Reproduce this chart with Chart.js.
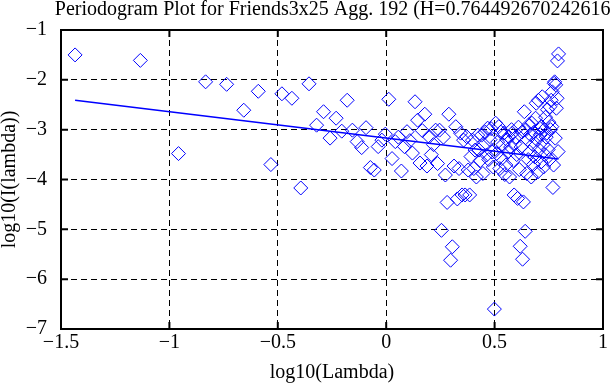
<!DOCTYPE html>
<html>
<head>
<meta charset="utf-8">
<script src="https://cdn.jsdelivr.net/npm/chart.js@4.4.1/dist/chart.umd.min.js"></script>
<style>
  html, body { margin: 0; padding: 0; background: #fff; }
</style>
</head>
<body>
<canvas id="periodogram" width="611" height="385"></canvas>
<script>
const chartTitle = 'Periodogram Plot for Friends3x25 Agg. 192 (H=0.764492670242616)';
const xAxisLabel = 'log10(Lambda)';
const yAxisLabel = 'log10(I(lambda))';

// log10 of the frequencies
const logLambda = [
  -1.435, -1.134, -0.958, -0.833, -0.736, -0.657, -0.590, -0.532, -0.481, -0.435,
  -0.394, -0.356, -0.321, -0.289, -0.259, -0.231, -0.205, -0.180, -0.156, -0.134,
  -0.113, -0.093, -0.073, -0.055, -0.037, -0.020, -0.004, 0.012, 0.027, 0.042,
  0.056, 0.070, 0.084, 0.096, 0.109, 0.121, 0.133, 0.145, 0.156, 0.167,
  0.178, 0.188, 0.198, 0.208, 0.218, 0.228, 0.237, 0.246, 0.255, 0.264,
  0.273, 0.281, 0.289, 0.297, 0.305, 0.313, 0.321, 0.328, 0.336, 0.343,
  0.350, 0.357, 0.364, 0.371, 0.378, 0.385, 0.391, 0.398, 0.404, 0.410,
  0.416, 0.422, 0.428, 0.434, 0.440, 0.446, 0.451, 0.457, 0.463, 0.468,
  0.473, 0.479, 0.484, 0.489, 0.494, 0.499, 0.505, 0.509, 0.514, 0.519,
  0.524, 0.529, 0.533, 0.538, 0.543, 0.547, 0.552, 0.556, 0.561, 0.565,
  0.569, 0.574, 0.578, 0.582, 0.586, 0.590, 0.594, 0.598, 0.602, 0.606,
  0.610, 0.614, 0.618, 0.622, 0.626, 0.629, 0.633, 0.637, 0.641, 0.644,
  0.648, 0.651, 0.655, 0.658, 0.662, 0.665, 0.669, 0.672, 0.676, 0.679,
  0.682, 0.686, 0.689, 0.692, 0.695, 0.699, 0.702, 0.705, 0.708, 0.711,
  0.714, 0.717, 0.720, 0.723, 0.726, 0.729, 0.732, 0.735, 0.738, 0.741,
  0.744, 0.747, 0.750, 0.753, 0.755, 0.758, 0.761, 0.764, 0.766, 0.769,
  0.772, 0.775, 0.777, 0.780, 0.782, 0.785, 0.788, 0.790, 0.793, 0.795
];

// log10 of the periodogram values
const logPeriodogram = [
  -1.50, -1.61, -3.48, -2.04, -2.09, -2.61, -2.23, -3.70, -2.28, -2.37,
  -4.17, -2.08, -2.91, -2.64, -3.17, -2.77, -3.03, -2.41, -3.01, -3.24,
  -3.36, -2.96, -3.76, -3.81, -3.34, -3.21, -3.09, -2.39, -3.58, -3.24,
  -3.15, -3.83, -3.34, -3.04, -3.22, -3.47, -2.44, -2.81, -3.67, -3.02,
  -2.69, -3.73, -3.14, -3.50, -3.30, -3.01, -3.68, -3.01, -5.02, -3.15,
  -3.91, -4.46, -2.69, -5.62, -5.35, -3.73, -2.94, -4.39, -3.78, -3.07,
  -4.31, -3.21, -4.31, -3.14, -3.81, -4.31, -3.54, -3.21, -3.78, -3.41,
  -3.95, -3.11, -3.41, -3.62, -3.11, -3.88, -3.30, -3.05, -3.51, -2.97,
  -3.60, -3.20, -2.98, -3.45, -3.75, -6.60, -2.87, -3.48, -3.25, -2.94,
  -3.78, -3.05, -3.58, -3.30, -3.07, -3.90, -3.71, -3.20, -3.45, -3.14,
  -3.95, -3.35, -3.00, -3.07, -3.62, -4.31, -3.28, -3.15, -3.50, -4.38,
  -2.95, -3.80, -5.34, -3.35, -3.05, -5.60, -4.45, -2.64, -5.04, -3.00,
  -3.88, -3.20, -3.60, -2.90, -3.45, -3.10, -3.95, -2.87, -3.30, -3.70,
  -3.05, -3.55, -2.77, -2.47, -3.20, -3.85, -2.41, -3.40, -2.97, -3.10,
  -3.65, -2.94, -2.34, -3.30, -3.75, -3.00, -3.50, -2.75, -3.15, -3.07,
  -2.60, -3.40, -2.85, -3.60, -2.54, -3.00, -2.41, -2.94, -2.24, -4.16,
  -3.71, -2.07, -2.04, -3.17, -2.10, -2.57, -2.37, -1.62, -3.44, -1.48
];

// least squares fit line end points
const fitX = [-1.435, 0.795];
const fitY = [-2.41, -3.59];

const xTickValues = [-1.5, -1, -0.5, 0, 0.5, 1];
const yTickValues = [-7, -6, -5, -4, -3, -2, -1];

const serif = '"Liberation Serif", "Times New Roman", serif';

function minusSign(v) {
  return String(v).replace('-', '\u2212');
}

// frame, inner tick marks and the title
const framePlugin = {
  id: 'frame',
  afterDraw(chart) {
    const { ctx, chartArea: a, scales } = chart;
    ctx.save();
    ctx.strokeStyle = '#000';
    ctx.lineWidth = 2;
    ctx.setLineDash([]);
    ctx.strokeRect(a.left, a.top, a.right - a.left, a.bottom - a.top);
    ctx.beginPath();
    scales.x.ticks.forEach(t => {
      const px = scales.x.getPixelForValue(t.value);
      ctx.moveTo(px, a.bottom); ctx.lineTo(px, a.bottom - 7);
      ctx.moveTo(px, a.top); ctx.lineTo(px, a.top + 7);
    });
    scales.y.ticks.forEach(t => {
      const py = scales.y.getPixelForValue(t.value);
      ctx.moveTo(a.left, py); ctx.lineTo(a.left + 7, py);
      ctx.moveTo(a.right, py); ctx.lineTo(a.right - 7, py);
    });
    ctx.stroke();

    ctx.fillStyle = '#000';
    ctx.font = '20px ' + serif;
    ctx.textAlign = 'center';
    ctx.textBaseline = 'alphabetic';
    ctx.fillText(chartTitle, (a.left + a.right) / 2 + 4, 15);
    ctx.restore();
  }
};

const ctx = document.getElementById('periodogram').getContext('2d');

new Chart(ctx, {
  type: 'scatter',
  data: {
    datasets: [
      {
        label: 'fit',
        type: 'line',
        data: fitX.map((x, i) => ({ x: x, y: fitY[i] })),
        borderColor: '#0000ff',
        borderWidth: 1.5,
        pointRadius: 0,
        fill: false,
        order: 0
      },
      {
        label: 'periodogram',
        data: logLambda.map((x, i) => ({ x: x, y: logPeriodogram[i] })),
        pointStyle: 'rectRot',
        pointRadius: 7,
        pointBorderWidth: 1,
        pointBorderColor: '#0000ff',
        pointBackgroundColor: 'rgba(0,0,0,0)',
        order: 1
      }
    ]
  },
  options: {
    responsive: false,
    animation: false,
    layout: { padding: { top: 30, right: 2, left: 0, bottom: 0 } },
    plugins: {
      legend: { display: false },
      tooltip: { enabled: false }
    },
    scales: {
      x: {
        type: 'linear',
        min: -1.5,
        max: 1,
        afterBuildTicks: scale => { scale.ticks = xTickValues.map(v => ({ value: v })); },
        afterFit: scale => { scale.height = 56; },
        grid: { color: '#000', lineWidth: 1, drawTicks: false },
        border: { display: false, dash: [6, 4] },
        ticks: {
          color: '#000',
          padding: 2,
          maxRotation: 0,
          font: { family: serif, size: 20 },
          callback: v => minusSign(v)
        },
        title: {
          display: true,
          text: xAxisLabel,
          color: '#000',
          padding: 0,
          font: { family: serif, size: 20 }
        }
      },
      y: {
        type: 'linear',
        min: -7,
        max: -1,
        afterBuildTicks: scale => { scale.ticks = yTickValues.map(v => ({ value: v })); },
        afterFit: scale => { scale.width = 61; },
        grid: { color: '#000', lineWidth: 1, drawTicks: false },
        border: { display: false, dash: [6, 4] },
        ticks: {
          color: '#000',
          padding: 14,
          font: { family: serif, size: 20 },
          callback: v => minusSign(v)
        },
        title: {
          display: true,
          text: yAxisLabel,
          color: '#000',
          padding: 0,
          font: { family: serif, size: 20, lineHeight: 1 }
        }
      }
    }
  },
  plugins: [framePlugin]
});
</script>
</body>
</html>
